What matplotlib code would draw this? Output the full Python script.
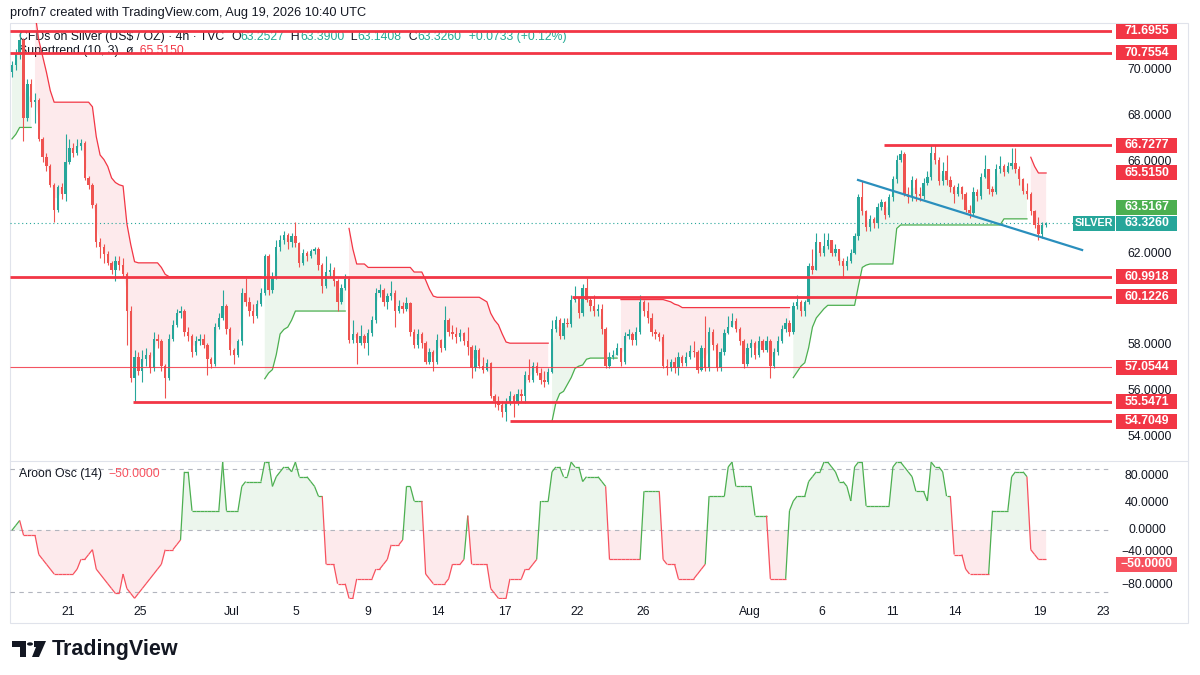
import numpy as np
import matplotlib
matplotlib.use('Agg')
import matplotlib.pyplot as plt
from matplotlib.patches import Rectangle, Polygon, Circle
from matplotlib.collections import LineCollection

plt.rcParams['font.family'] = ['Liberation Sans', 'DejaVu Sans']

W, H = 1200, 675

# ---- 4h candles (TVC:SILVER), open = previous close ----
first_open = 69.9
closes = [
    70.2, 70.7, 71.3, 67.9, 69.4, 68.6, 68.7, 67.0, 66.2, 65.8,
    65.0, 63.9, 64.9, 64.6, 66.0, 66.6, 66.4, 66.7, 66.8, 65.3,
    65.0, 64.1, 62.5, 62.3, 62.0, 61.6, 61.3, 61.7, 61.5, 61.1,
    59.5, 56.6, 57.5, 56.9, 57.4, 57.6, 57.0, 58.3, 58.2, 57.1,
    56.6, 58.3, 58.9, 59.4, 59.5, 58.6, 58.4, 57.7, 58.2, 58.3,
    58.0, 57.4, 57.2, 58.8, 59.2, 59.7, 58.7, 57.8, 57.6, 58.2,
    60.3, 59.9, 59.5, 59.3, 59.8, 60.3, 61.9, 60.4, 61.0, 62.3,
    62.6, 62.8, 62.5, 62.75, 62.45, 61.6, 62.05, 61.9, 62.1, 62.2,
    61.5, 60.6, 61.2, 61.3, 60.8, 59.9, 60.5, 60.9, 58.25, 58.5,
    58.1, 58.4, 58.1, 58.55, 59.1, 60.3, 60.4, 59.9, 60.15, 60.3,
    59.5, 59.7, 59.6, 59.85, 58.6, 58.0, 58.5, 58.1, 57.3, 57.7,
    57.3, 58.25, 57.9, 59.1, 58.6, 58.5, 58.35, 58.55, 58.2, 57.95,
    57.0, 57.8, 57.1, 56.95, 57.25, 55.8, 55.6, 55.4, 55.1, 55.5,
    55.8, 55.5, 55.9, 55.8, 56.7, 56.5, 57.1, 56.8, 56.5, 56.4,
    56.85, 58.7, 59.1, 58.4, 59.0, 58.95, 60.0, 60.1, 59.4, 60.5,
    60.0, 59.7, 59.5, 59.6, 58.7, 57.1, 57.5, 57.6, 57.9, 57.3,
    58.4, 58.5, 58.25, 58.6, 59.9, 59.5, 59.2, 58.6, 58.5, 58.35,
    57.1, 57.0, 57.3, 57.0, 57.5, 57.25, 57.5, 57.75, 57.7, 56.95,
    57.9, 57.0, 58.6, 58.0, 57.0, 57.7, 58.55, 58.8, 59.05, 58.7,
    58.2, 57.2, 57.9, 58.1, 57.6, 58.2, 57.8, 58.2, 57.1, 57.7,
    58.2, 58.7, 59.0, 58.6, 59.7, 59.9, 59.5, 59.9, 61.45, 61.3,
    62.5, 62.05, 62.35, 62.6, 62.05, 62.2, 61.7, 61.45, 61.7, 62.05,
    62.75, 64.45, 63.85, 63.15, 63.5, 63.35, 64.05, 64.25, 63.7, 64.45,
    65.25, 66.1, 66.35, 64.6, 64.45, 65.2, 64.6, 64.5, 65.1, 65.35,
    66.4, 66.1, 65.15, 65.6, 65.2, 64.9, 64.6, 64.9, 64.6, 63.9,
    63.75, 64.7, 64.5, 65.35, 65.7, 64.8, 64.7, 65.7, 65.8, 65.55,
    65.8, 65.95, 65.7, 65.25, 64.75, 64.6, 63.85, 63.25, 62.85, 63.2527,
    63.326,
]
highs = [
    70.4, 70.9, 71.7, 71.4, 69.6, 69.6, 69.0, 68.8, 67.1, 66.4,
    65.9, 65.1, 65.0, 65.1, 67.2, 67.0, 66.8, 67.0, 67.0, 66.9,
    65.4, 65.1, 64.2, 62.7, 62.4, 62.1, 61.7, 61.9, 61.9, 61.8,
    61.2, 59.7, 57.8, 57.7, 57.8, 57.9, 57.7, 58.6, 58.5, 58.3,
    57.2, 58.5, 59.1, 59.6, 59.7, 59.6, 58.8, 58.5, 58.4, 58.5,
    58.5, 58.1, 57.5, 59.0, 59.4, 60.4, 59.8, 58.8, 57.9, 58.3,
    60.5, 60.95, 60.1, 59.8, 60.0, 60.5, 62.0, 62.0, 61.2, 62.6,
    62.8, 63.0, 62.9, 62.9, 63.4, 62.5, 62.2, 62.1, 62.2, 62.3,
    62.3, 61.6, 61.9, 61.6, 61.4, 60.9, 60.7, 61.1, 61.0, 59.1,
    58.6, 58.9, 58.5, 58.7, 59.3, 60.5, 60.7, 60.5, 60.3, 60.8,
    60.4, 60.0, 59.9, 60.1, 59.9, 58.7, 58.7, 58.6, 58.2, 57.9,
    57.8, 58.5, 58.3, 59.7, 59.2, 58.9, 58.8, 58.7, 58.6, 58.8,
    58.0, 58.0, 57.9, 57.5, 57.4, 57.3, 55.9, 55.8, 55.6, 55.7,
    56.0, 55.9, 56.1, 56.1, 56.9, 57.4, 57.3, 57.3, 57.0, 56.9,
    57.0, 59.1, 59.3, 59.2, 59.2, 59.2, 60.2, 60.6, 60.1, 60.7,
    60.95, 60.1, 60.2, 59.8, 59.8, 58.8, 57.7, 57.8, 58.1, 57.9,
    58.6, 58.7, 58.6, 58.8, 60.2, 60.0, 59.9, 59.4, 58.7, 58.6,
    58.5, 57.4, 57.4, 57.5, 57.7, 57.6, 57.7, 58.0, 58.2, 57.8,
    58.0, 59.3, 58.8, 58.7, 58.1, 57.9, 58.7, 59.3, 59.4, 59.2,
    58.8, 58.3, 58.1, 58.3, 58.2, 58.4, 58.3, 58.4, 58.3, 57.9,
    58.4, 58.9, 59.2, 59.1, 59.9, 60.2, 60.0, 60.0, 61.6, 62.2,
    62.9, 62.5, 62.9, 62.9, 62.6, 62.4, 62.2, 61.8, 61.9, 62.2,
    62.9, 64.6, 65.15, 63.9, 63.7, 63.6, 64.2, 64.4, 64.3, 64.6,
    65.4, 66.3, 66.5, 66.45, 64.9, 65.4, 65.3, 64.9, 65.3, 65.6,
    66.75, 66.75, 66.2, 66.0, 66.3, 65.4, 65.0, 65.1, 64.95, 64.7,
    64.1, 64.9, 64.8, 65.5, 66.3, 65.7, 64.95, 65.9, 66.25, 65.9,
    66.0, 66.6, 66.6, 65.8, 65.3, 65.1, 64.7, 63.9, 63.6, 63.4,
    63.39,
]
lows = [
    69.7, 70.0, 70.5, 66.9, 67.8, 68.4, 67.7, 66.9, 66.0, 65.6,
    64.9, 63.4, 63.8, 64.4, 64.3, 65.9, 66.2, 66.3, 66.5, 65.2,
    64.8, 64.0, 62.3, 61.8, 61.6, 61.5, 61.1, 60.8, 61.3, 61.0,
    58.0, 56.4, 55.55, 56.7, 56.4, 57.1, 56.8, 56.9, 57.9, 56.9,
    55.7, 56.5, 58.2, 58.8, 59.2, 58.4, 58.2, 57.5, 57.6, 58.0,
    57.9, 56.7, 57.0, 57.1, 58.7, 59.1, 58.5, 57.6, 57.2, 57.5,
    58.0, 59.7, 59.3, 59.0, 59.2, 59.7, 60.2, 60.2, 60.3, 60.9,
    62.1, 62.4, 62.2, 62.3, 62.3, 61.4, 61.5, 61.7, 61.8, 62.0,
    61.3, 60.3, 60.5, 61.0, 60.6, 59.5, 59.8, 60.4, 58.1, 58.1,
    57.2, 58.0, 57.9, 57.6, 58.4, 59.0, 60.1, 59.7, 59.6, 60.0,
    58.8, 59.4, 59.4, 59.5, 58.4, 57.9, 57.9, 57.9, 57.2, 57.2,
    56.9, 57.2, 57.7, 57.8, 58.4, 58.3, 58.1, 58.2, 58.0, 57.6,
    56.6, 56.9, 57.0, 56.8, 56.9, 55.7, 55.3, 55.2, 54.9, 54.7,
    55.4, 54.9, 55.4, 55.6, 55.5, 56.4, 56.4, 56.7, 56.3, 56.2,
    56.3, 56.8, 58.6, 58.3, 58.3, 58.8, 58.8, 59.9, 59.2, 59.3,
    59.9, 59.5, 59.3, 59.3, 58.5, 57.0, 57.0, 57.4, 57.6, 57.1,
    57.2, 58.3, 58.0, 58.0, 58.5, 59.3, 59.0, 58.4, 58.3, 58.2,
    57.0, 56.7, 56.9, 56.8, 56.7, 57.1, 57.1, 57.4, 57.5, 56.8,
    56.9, 56.9, 56.9, 57.8, 56.9, 56.9, 57.6, 58.5, 58.8, 58.6,
    58.0, 57.0, 57.1, 57.5, 57.4, 57.5, 57.7, 57.7, 56.6, 57.0,
    57.6, 58.1, 58.6, 58.4, 58.5, 59.6, 59.3, 59.3, 59.8, 61.1,
    61.3, 61.9, 61.9, 62.2, 61.9, 61.9, 61.5, 60.95, 61.3, 61.6,
    62.0, 62.6, 63.7, 63.0, 63.0, 63.1, 63.1, 63.9, 63.5, 63.6,
    64.3, 65.1, 66.0, 64.5, 64.2, 64.3, 64.3, 64.3, 64.4, 65.0,
    65.2, 65.9, 65.0, 65.0, 65.0, 64.7, 64.2, 64.5, 64.4, 63.8,
    63.55, 63.7, 64.3, 64.4, 65.3, 64.6, 64.5, 64.6, 65.5, 65.4,
    65.5, 65.7, 65.5, 65.0, 64.6, 64.4, 63.7, 63.1, 62.6, 62.7,
    63.1408,
]

supertrend = (
    [67.0, 67.2, 67.5, 67.5, 67.5, 67.5]
    + [72.5, 71.3, 70.6, 69.9, 69.1, 68.6] + [68.6] * 9 + [68.4]
    + [67.1, 66.3, 66.1, 65.8, 65.3, 65.1, 65.0, 64.95]
    + [63.3, 62.4, 61.65] + [61.6] * 6 + [61.4, 61.1] + [61.0] * 25
    + [56.55, 56.8, 56.95, 57.6, 58.5, 58.7, 58.8, 59.1, 59.5] + [59.5] * 13
    + [63.1, 62.2, 61.55, 61.55, 61.55] + [61.4] * 12 + [61.2] * 3
    + [60.85, 60.45, 60.15] + [60.1] * 12
    + [60.0, 59.9, 59.4, 59.1, 58.9, 58.5, 58.15] + [58.1] * 11
    + [54.7, 55.5, 55.9, 56.0, 56.3, 56.6, 57.0, 57.1, 57.15, 57.4] + [57.45] * 8
    + [60.0] * 12 + [59.95, 59.9, 59.8, 59.75] + [59.65] * 29
    + [56.6, 56.85, 57.1, 57.25, 57.9, 58.8, 59.2, 59.4, 59.6, 59.75] + [59.75] * 7
    + [60.6, 61.4, 61.5] + [61.55] * 7 + [63.1] + [63.25] * 27 + [63.5167] * 7
    + [66.2, 65.8, 65.515, 65.515, 65.515]
)
st_flips = [6, 66, 88, 141, 159, 204, 266]   # first segment is an up-trend

# time axis labels (bar position of each date)
date_labels = ['21', '25', 'Jul', '5', '9', '14', '17', '22', '26', 'Aug', '6', '11', '14', '19', '23']
date_bars = [14.6, 33.4, 57.4, 74.2, 92.9, 111.2, 128.7, 147.5, 164.8, 192.7, 211.5, 230.0, 246.2, 268.4, 284.9]

# drawn horizontal levels and where they start
level_vals = [71.6955, 70.7554, 66.7277, 60.9918, 60.1226, 57.0544, 55.5471, 54.7049]
level_from = [-0.5, -0.5, 227.8, -0.5, 146.2, -0.5, 31.6, 130.0]
level_thin = [False, False, False, False, False, True, False, False]

# blue trendline (bar, price)
trend_bars = [220.9, 279.4]
trend_prices = [65.21, 62.16]

price_ticks = [54, 56, 58, 62, 66, 68, 70]
osc_ticks = [80, 40, 0, -40, -80]

UP, DN = '#26A69A', '#EF5350'
ST_G, ST_R = '#4CAF50', '#F23645'
TXT = '#131722'

c = np.array(closes)
n = len(c)
x = np.arange(n)
o = np.r_[first_open, c[:-1]]
hi = np.maximum(np.array(highs), np.maximum(o, c))
lo = np.minimum(np.array(lows), np.minimum(o, c))

st = np.array(supertrend)
seg_no = np.searchsorted(st_flips, x, side='right')
is_up = seg_no % 2 == 0
st_up = np.where(is_up, st, np.nan)
st_dn = np.where(~is_up, st, np.nan)
body_mid = (o + c) / 2

# ---- Aroon Osc (14) ----
L = 14
osc = np.zeros(n)
for i in range(n):
    s = max(0, i - L)
    wh, wl = hi[s:i + 1], lo[s:i + 1]
    bh = np.argmax(wh[::-1])   # bars since highest high
    bl = np.argmin(wl[::-1])   # bars since lowest low
    osc[i] = 100.0 * (bl - bh) / L

# ---- figure ----
fig = plt.figure(figsize=(12, 6.75), dpi=100)
fig.patch.set_facecolor('white')

def fx(px):
    return px / W

def fy(py):
    return 1 - py / H

x_left = (10 - 12) / 3.83
x_right = (1112 - 12) / 3.83

ax = fig.add_axes([fx(10), fy(460), fx(1102), 437 / H])
ax2 = fig.add_axes([fx(10), fy(599), fx(1102), 138 / H])
for a in (ax, ax2):
    a.set_xlim(x_left, x_right)
    a.set_facecolor('none')
    for sp in a.spines.values():
        sp.set_visible(False)
    a.set_xticks([])
    a.set_yticks([])
ax.set_ylim(53.01, 72.05)
ax2.set_ylim(-101, 101.6)

# supertrend fills + lines
ax.fill_between(x, body_mid, st_up, where=is_up, color=ST_G, alpha=0.1, lw=0, zorder=1)
ax.fill_between(x, body_mid, st_dn, where=~is_up, color=ST_R, alpha=0.1, lw=0, zorder=1)
ax.plot(x, st_up, color=ST_G, lw=0.9, zorder=2)
ax.plot(x, st_dn, color=ST_R, lw=0.9, zorder=2)

# candles
cols = np.where(c >= o, UP, DN)
ax.vlines(x, lo, hi, colors=cols, lw=0.8, zorder=3)
ax.bar(x, np.maximum(abs(c - o), 0.03), bottom=np.minimum(o, c), width=0.62,
       color=cols, lw=0, zorder=4)

# last price dotted line
ax.axhline(c[-1], color=UP, lw=0.8, ls=(0, (1, 2.5)), zorder=2)

# levels
for v, x0, thin in zip(level_vals, level_from, level_thin):
    ax.plot([x0, x_right], [v, v], color=ST_R, lw=0.8 if thin else 2.0,
            alpha=0.85 if thin else 1, zorder=5, solid_capstyle='butt')

# trendline
ax.plot(trend_bars, trend_prices, color='#2A8FBD', lw=1.6, zorder=5)

# oscillator
for lvl in (90, 0, -90):
    ax2.axhline(lvl, color='#B2B5BE', lw=0.8, ls=(0, (4, 4)))
ax2.fill_between(x, osc, 0, where=osc >= 0, interpolate=True, color=ST_G, alpha=0.1, lw=0)
ax2.fill_between(x, osc, 0, where=osc <= 0, interpolate=True, color=ST_R, alpha=0.1, lw=0)
segs = [[(x[i - 1], osc[i - 1]), (x[i], osc[i])] for i in range(1, n)]
seg_cols = [ST_G if osc[i] > 0 else '#F7525F' for i in range(1, n)]
ax2.add_collection(LineCollection(segs, colors=seg_cols, lw=0.9))

# ---- frame / separators ----
fig.patches.append(Rectangle((fx(10), fy(623)), fx(1178), 600 / H, transform=fig.transFigure,
                             fill=False, edgecolor='#E0E3EB', lw=0.8, zorder=-2))
fig.add_artist(plt.Line2D([fx(10), fx(1188)], [fy(460.5), fy(460.5)], color='#E0E3EB', lw=0.8, zorder=-2))

# ---- texts ----
fig.text(fx(10), fy(13), 'profn7 created with TradingView.com, Aug 19, 2026 10:40 UTC',
         fontsize=9.2, color=TXT, va='center', ha='left')

renderer = fig.canvas.get_renderer()

def runs(xpx, ypx, parts, size=8.8, zorder=3):
    cur = xpx
    for txt, col in parts:
        t = fig.text(fx(cur), fy(ypx), txt, fontsize=size, color=col, va='center', ha='left', zorder=zorder)
        cur += t.get_window_extent(renderer).width

VAL = '#22AB94'
runs(19, 37, [('CFDs on Silver (US$ / OZ) · 4h · TVC  ', TXT), ('O', TXT), ('63.2527', VAL),
              ('  H', TXT), ('63.3900', VAL), ('  L', TXT), ('63.1408', VAL),
              ('  C', TXT), ('63.3260', VAL), ('  +0.0733 (+0.12%)', VAL)], zorder=-1)
runs(19, 51, [('Supertrend (10, 3)  ', TXT), ('ø', TXT), ('  65.5150', ST_R)], zorder=-1)
runs(19, 474, [('Aroon Osc (14)  ', TXT), ('\u221250.0000', '#F7525F')])

def ytag_px(a, v):
    yd = a.transData.transform((0, v))[1]
    return H - yd * H / fig.bbox.height

for v in price_ticks:
    fig.text(fx(1150), fy(ytag_px(ax, v)), f'{v:.4f}', fontsize=8.8, color=TXT,
             ha='center', va='center')
for v in osc_ticks:
    lab = f'{v:.4f}'.replace('-', '\u2212')
    yp = ytag_px(ax2, v) - (5 if v == -40 else 0)
    fig.text(fx(1147), fy(yp), lab, fontsize=8.8, color=TXT, ha='center', va='center')

def tag(a, v, txt, fc, x0=1116, w=61, dy=0, size=8.8):
    yp = ytag_px(a, v) + dy
    fig.patches.append(Rectangle((fx(x0), fy(yp + 7.5)), fx(w), 15 / H, transform=fig.transFigure,
                                 facecolor=fc, edgecolor='none', zorder=5))
    fig.text(fx(x0 + w / 2), fy(yp), txt, fontsize=size, fontweight='bold', color='white',
             ha='center', va='center', zorder=6)

for v in [71.6955, 70.7554, 66.7277, 65.5150, 60.9918, 60.1226, 57.0544, 55.5471, 54.7049]:
    tag(ax, v, f'{v:.4f}', ST_R)
tag(ax, 63.5167, '63.5167', ST_G, dy=-11.5)
tag(ax, c[-1], f'{c[-1]:.4f}', UP)
tag(ax, c[-1], 'SILVER', UP, x0=1073, w=42, size=7.8)
tag(ax2, -50, '\u221250.0000', '#F7525F')

# time axis
for b, lab in zip(date_bars, date_labels):
    xp = 12 + 3.83 * b
    fig.text(fx(xp), fy(612), lab, fontsize=8.8, color=TXT, ha='center', va='center')

# TradingView logo
logo = [
    Polygon([(12, 641), (26, 641), (26, 657), (20, 657), (20, 647), (12, 647)], closed=True),
    Polygon([(34, 641), (46, 641), (39, 657), (32, 657), (36, 647), (34, 647)], closed=True),
]
for p in logo:
    p.set_xy([(fx(a), fy(b)) for a, b in p.get_xy()])
    p.set_transform(fig.transFigure)
    p.set_facecolor(TXT)
    p.set_edgecolor('none')
    fig.patches.append(p)
fig.patches.append(Circle((fx(30), fy(644)), 3 / W, transform=fig.transFigure, facecolor=TXT, edgecolor='none'))
fig.text(fx(52), fy(649), 'TradingView', fontsize=15.5, fontweight='bold', color=TXT, va='center', ha='left')

fig.savefig('out.png', dpi=100)
